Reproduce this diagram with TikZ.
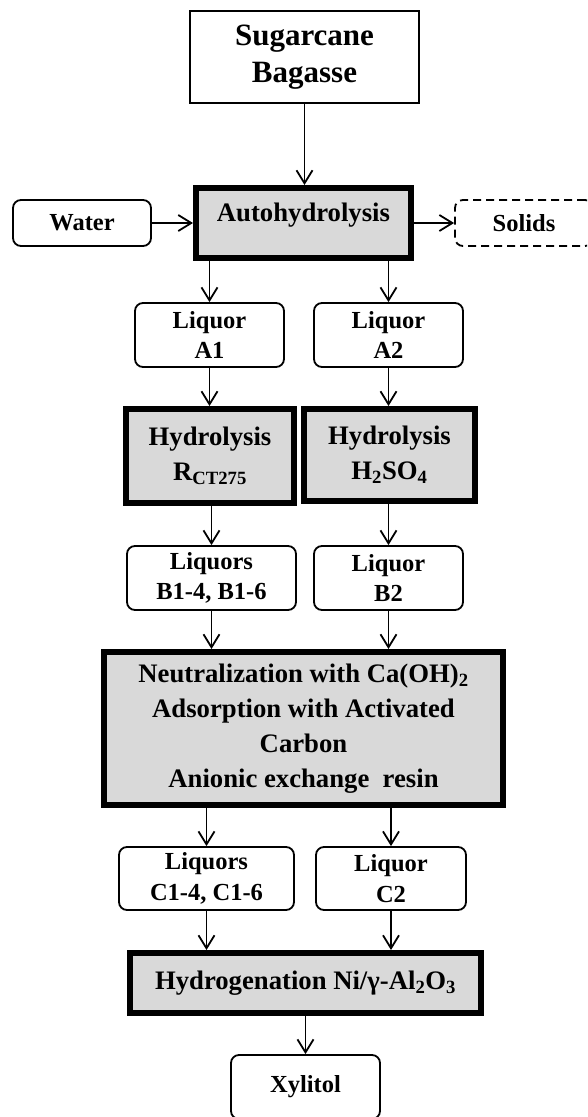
\documentclass[tikz,border=0pt]{standalone}
\usepackage{fontspec}
\setmainfont{Liberation Serif}
\usepackage{xcolor}
\usetikzlibrary{arrows.meta}
\definecolor{boxgray}{RGB}{217,217,217}
\newcommand{\feedfont}{\fontsize{31}{37}\selectfont\bfseries}
\newcommand{\procfont}{\fontsize{26.7}{35}\selectfont\bfseries}
\newcommand{\liqfont}{\fontsize{24.5}{30.7}\selectfont\bfseries}
\tikzset{
    feed/.style={draw,line width=1.6pt,inner sep=0pt,align=center,font=\feedfont},
    proc/.style={draw,line width=6pt,fill=boxgray,inner sep=0pt,align=center,font=\procfont},
    liq/.style={draw,line width=1.8pt,rounded corners=8pt,inner sep=0pt,align=center,font=\liqfont,minimum height=64pt},
    flow/.style={line width=1.8pt,-{Straight Barb[length=13pt,width=16pt]}}
}

\begin{document}
\begin{tikzpicture}[x=1pt,y=-1pt]
\clip (0,0) rectangle (587,1117);
\node[feed,minimum width=229pt,minimum height=92pt] (bagasse) at (304.5,57) {Sugarcane\\Bagasse};
\node[proc,minimum width=215pt,minimum height=70pt,text height=18pt,text depth=22pt] (auto) at (303.5,223) {Autohydrolysis};
\node[liq,minimum width=138pt,minimum height=46pt] (water) at (82,223) {Water};
\node[liq,dash pattern=on 8pt off 5pt,minimum width=138pt,minimum height=46pt] (solids) at (524,223) {Solids};
\node[liq,minimum width=149pt] (liqa1) at (209.5,335) {Liquor\\A1};
\node[liq,minimum width=149pt] (liqa2) at (388.5,335) {Liquor\\A2};
\node[proc,minimum width=168pt,minimum height=94pt] (hydr) at (210,456) {Hydrolysis\\R\textsubscript{CT275}};
\node[proc,minimum width=171pt,minimum height=92pt] (hyds) at (389.5,455) {Hydrolysis\\H\textsubscript{2}SO\textsubscript{4}};
\node[liq,minimum width=169pt] (liqb1) at (211.5,578) {Liquors\\B1-4, B1-6};
\node[liq,minimum width=149pt] (liqb2) at (388.5,578) {Liquor\\B2};
\node[proc,minimum width=399pt,minimum height=153pt] (purif) at (303.5,728.5) {Neutralization with Ca(OH)\textsubscript{2}\\Adsorption with Activated\\Carbon\\Anionic exchange\ \ resin};
\node[liq,minimum width=175pt,minimum height=63pt] (liqc1) at (206.5,878.5) {Liquors\\C1-4, C1-6};
\node[liq,minimum width=150pt,minimum height=63pt] (liqc2) at (391,878.5) {Liquor\\C2};
\node[proc,minimum width=351pt,minimum height=60pt] (hydrog) at (305.5,983) {Hydrogenation Ni/γ-Al\textsubscript{2}O\textsubscript{3}};
\node[liq,minimum width=149pt] (xylitol) at (305.5,1087) {Xylitol};

\draw[flow] (bagasse) -- (bagasse |- auto.north);
\draw[flow] (water) -- (auto);
\draw[flow] (auto) -- (solids);
\foreach \a/\b in {auto/liqa1, auto/liqa2, hydr/liqb1, hyds/liqb2, purif/liqc1, purif/liqc2}{
    \draw[flow] (\a.south -| \b) -- (\b);
}
\foreach \a/\b in {liqa1/hydr, liqa2/hyds, liqb1/purif, liqb2/purif, liqc1/hydrog, liqc2/hydrog}{
    \draw[flow] (\a) -- (\a |- \b.north);
}
\draw[flow] (hydrog) -- (xylitol);
\end{tikzpicture}
\end{document}
